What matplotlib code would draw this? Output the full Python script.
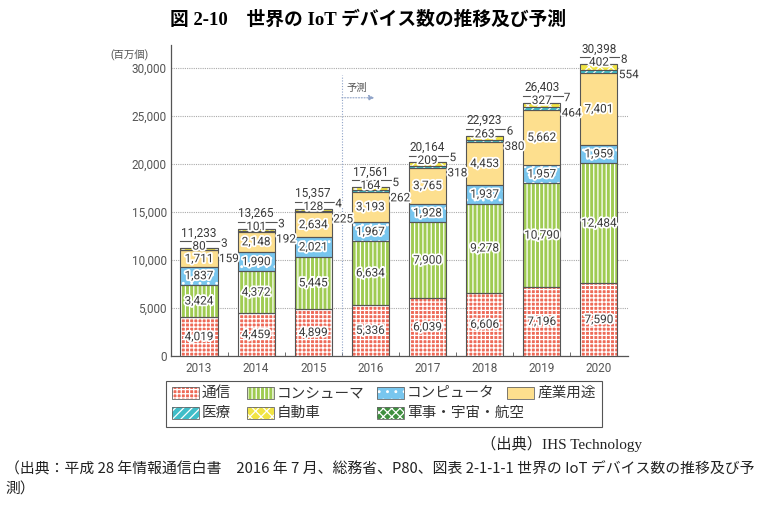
import matplotlib
matplotlib.use('Agg')
import matplotlib.pyplot as plt
import matplotlib.patheffects as pe
import matplotlib.transforms as mtransforms
from matplotlib.patches import Rectangle
import numpy as np

plt.rcParams['font.family'] = ['Roboto', 'Noto Sans CJK JP', 'DejaVu Sans']
plt.rcParams['hatch.linewidth'] = 0.9

# ---- data (百万個) ----
years = ['2013', '2014', '2015', '2016', '2017', '2018', '2019', '2020']
communication = [4019, 4459, 4899, 5336, 6039, 6606, 7196, 7590]
consumer = [3424, 4372, 5445, 6634, 7900, 9278, 10790, 12484]
computer = [1837, 1990, 2021, 1967, 1928, 1937, 1957, 1959]
industrial = [1711, 2148, 2634, 3193, 3765, 4453, 5662, 7401]
medical = [80, 101, 128, 164, 209, 263, 327, 402]
automotive = [159, 192, 225, 262, 318, 380, 464, 554]
military = [3, 3, 4, 5, 5, 6, 7, 8]
totals = [11233, 13265, 15357, 17561, 20164, 22923, 26403, 30398]
series_names = ['通信', 'コンシューマ', 'コンピュータ', '産業用途', '医療', '自動車', '軍事・宇宙・航空']
y_ticks = [0, 5000, 10000, 15000, 20000, 25000, 30000]

series = [communication, consumer, computer, industrial, medical, automotive, military]
colors = ['#EE6A58', '#9FCB52', '#78C6EE', '#FDDF8E', '#3FBDC8', '#F1E443', '#3F8F3F']
hatches = ['++++', '||||', '..', None, '////', 'xxx', 'xxxx']

W, H = 766, 508
fig = plt.figure(figsize=(W / 100, H / 100), dpi=100)
ax = fig.add_axes([171 / W, 1 - 356 / H, 457 / W, 311 / H])

x = np.arange(len(years))
bw = 0.65
bottom = np.zeros(len(years))
txt_color = '#3a3a3a'
stroke = [pe.withStroke(linewidth=2.6, foreground='white')]

for k, (vals, c, h) in enumerate(zip(series, colors, hatches)):
    vals = np.array(vals, dtype=float)
    ax.bar(x, vals, bw, bottom=bottom, color=c, edgecolor='white', linewidth=0,
           hatch=h, zorder=3)
    ax.bar(x, vals, bw, bottom=bottom, fill=False, edgecolor='#555555', linewidth=0.8,
           zorder=4)
    if k < 4:
        for xi, b, v in zip(x, bottom, vals):
            ax.text(xi, b + v / 2, f'{int(v):,}', ha='center', va='center',
                    fontsize=8.5, color=txt_color, path_effects=stroke, zorder=6)
    bottom += vals

# labels at top of each bar
line_trans = mtransforms.offset_copy(ax.transData, fig=fig, x=0, y=5, units='points')
for xi, t, m, a, mil in zip(x, totals, medical, automotive, military):
    ax.annotate(f'{t:,}', xy=(xi, t), xytext=(0, 11), textcoords='offset points',
                ha='center', va='center', fontsize=8.5, color=txt_color, zorder=6)
    ax.plot([xi - bw / 2, xi + bw / 2 + 0.04], [t, t], color='#555555', lw=0.8,
            transform=line_trans, zorder=6, clip_on=False)
    ax.annotate(f'{m:,}', xy=(xi, t), xytext=(0, 1.5), textcoords='offset points',
                ha='center', va='center', fontsize=8.5, color=txt_color,
                path_effects=stroke, zorder=7)
    ax.annotate(f'{a:,}', xy=(xi + bw / 2, t), xytext=(1, -7.5), textcoords='offset points',
                ha='left', va='center', fontsize=8.5, color=txt_color,
                path_effects=stroke, zorder=7)
    ax.annotate(f'{mil:,}', xy=(xi + bw / 2, t), xytext=(2.5, 3.5), textcoords='offset points',
                ha='left', va='center', fontsize=8.5, color=txt_color,
                path_effects=stroke, zorder=7)

ax.set_xlim(-0.49, len(years) - 0.49)
ax.set_ylim(0, 32400)
ax.set_yticks(y_ticks)
ax.set_yticklabels([f'{v:,}' for v in y_ticks])
ax.set_xticks(x)
ax.set_xticklabels(years)
ax.tick_params(axis='both', length=0, labelsize=8.5, labelcolor='#555555')
ax.tick_params(axis='y', pad=3)
ax.tick_params(axis='x', pad=4)
ax.set_xticks(x[:-1] + 0.5, minor=True)
ax.tick_params(axis='x', which='minor', length=3, direction='in', color='#555555')
ax.grid(axis='y', linestyle=(0, (1, 1)), color='#aaaaaa', linewidth=0.8, zorder=0)
for s in ['top', 'right']:
    ax.spines[s].set_visible(False)
for s in ['left', 'bottom']:
    ax.spines[s].set_color('#555555')
    ax.spines[s].set_linewidth(0.9)

ax.text(-0.05, 32400 - 1050, '(百万個)', transform=ax.get_yaxis_transform(),
        ha='right', va='center', fontsize=7.5, color='#555555')

# forecast marker
ax.plot([2.5, 2.5], [0, 29300], linestyle=(0, (1, 1.5)), color='#8fa3c8', lw=0.8, zorder=2)
ax.annotate('', xy=(3.07, 26900), xytext=(2.5, 26900),
            arrowprops=dict(arrowstyle='-|>', linestyle=(0, (1, 1.5)), color='#8fa3c8',
                            lw=0.8, mutation_scale=8, shrinkA=0, shrinkB=0))
ax.text(2.58, 27950, '予測', ha='left', va='center', fontsize=7.5, color='#555555')

# ---- title ----
fig.text(368 / W, 1 - 20 / H, '図 2-10　世界の IoT デバイス数の推移及び予測', ha='center',
         va='center', fontsize=13.5, fontweight='bold',
         family=['Liberation Serif', 'Noto Sans CJK JP'])

# ---- legend (manual layout) ----
def fx(px):
    return px / W

def fy(py):
    return 1 - py / H

fig.patches.append(Rectangle((fx(166), fy(427)), fx(602) - fx(166), fy(381) - fy(427),
                             transform=fig.transFigure, fill=False, edgecolor='#555555',
                             linewidth=0.8))
leg_pos = [(172, 393), (247, 393), (377, 393), (507, 393), (172, 413), (247, 413), (377, 413)]
for name, c, h, (lx, ly) in zip(series_names, colors, hatches, leg_pos):
    fig.patches.append(Rectangle((fx(lx), fy(ly + 6)), fx(27), 12 / H,
                                 transform=fig.transFigure, facecolor=c, edgecolor='white',
                                 linewidth=0, hatch=h))
    fig.patches.append(Rectangle((fx(lx), fy(ly + 6)), fx(27), 12 / H,
                                 transform=fig.transFigure, fill=False, edgecolor='#666666',
                                 linewidth=0.6))
    fig.text(fx(lx + 30), fy(ly), name, ha='left', va='center', fontsize=10.5,
             color='#333333', family=['Noto Sans CJK JP'])

fig.text(fx(642), fy(444), '（出典）IHS Technology', ha='right', va='center', fontsize=11,
         color='#222222', family=['Liberation Serif', 'Noto Sans CJK JP'])

fig.text(fx(5), fy(469), '（出典：平成 28 年情報通信白書　2016 年 7 月、総務省、P80、図表 2-1-1-1 世界の IoT デバイス数の推移及び予',
         ha='left', va='center', fontsize=10.7, color='#222222',
         family=['Noto Sans CJK JP'])
fig.text(fx(5), fy(490), '測）', ha='left', va='center', fontsize=10.7, color='#222222',
         family=['Noto Sans CJK JP'])

fig.savefig('out.png', dpi=100)
